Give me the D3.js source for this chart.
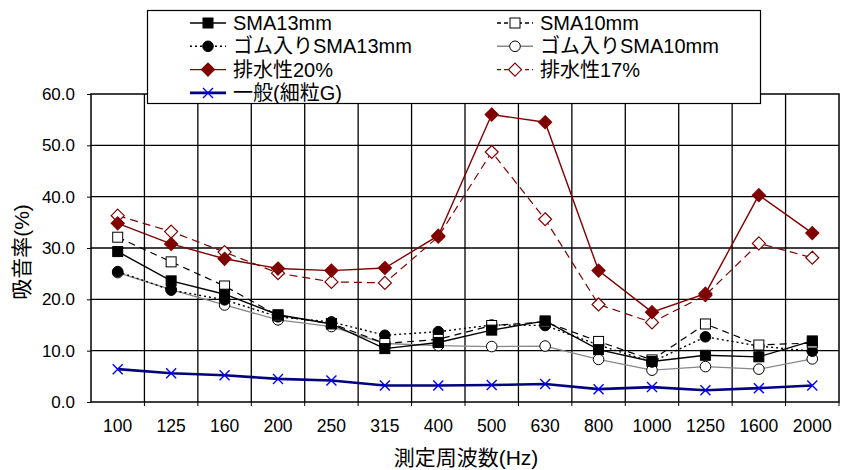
<!DOCTYPE html>
<html><head><meta charset="utf-8">
<script src="https://cdn.jsdelivr.net/npm/d3@7"></script>
<style>
body{margin:0;background:#fff;}
svg{display:block;font-family:"Liberation Sans","Noto Sans CJK JP",sans-serif;}
</style></head>
<body>
<svg id="c" width="843" height="470"></svg>
<script>
const categories = ["100","125","160","200","250","315","400","500","630","800","1000","1250","1600","2000"];
const yTicks = [0,10,20,30,40,50,60];

const sma13 = [29.3,23.6,21.0,17.0,15.2,10.4,11.6,14.0,15.8,10.2,7.9,9.1,8.8,11.9];
const sma10 = [32.1,27.3,22.6,16.8,15.3,11.4,12.2,14.9,15.6,11.8,8.2,15.2,11.1,11.5];
const gomu13 = [25.4,21.8,19.9,16.6,15.6,13.0,13.7,15.0,14.9,11.1,7.8,12.7,10.9,9.9];
const gomu10 = [25.2,21.9,18.9,16.0,14.7,11.4,11.0,10.8,10.9,8.3,6.2,6.9,6.4,8.4];
const haisui20 = [34.8,30.8,27.9,26.0,25.6,26.1,32.4,56.0,54.5,25.6,17.5,21.1,40.3,32.9];
const haisui17 = [36.3,33.2,29.2,25.1,23.4,23.2,32.2,48.7,35.6,19.0,15.5,20.8,30.9,28.1];
const ippan = [6.4,5.6,5.2,4.5,4.2,3.2,3.2,3.3,3.5,2.5,2.9,2.3,2.7,3.2];

const seriesNames = ["SMA13mm","SMA10mm","ゴム入りSMA13mm","ゴム入りSMA10mm","排水性20%","排水性17%","一般(細粒G)"];

const series = [
  {name:seriesNames[0], values:sma13, line:"#000", width:1.4, dash:null, marker:"square", fill:"#000", stroke:"#000"},
  {name:seriesNames[1], values:sma10, line:"#000", width:1.2, dash:"7,5", marker:"square", fill:"#fff", stroke:"#000"},
  {name:seriesNames[2], values:gomu13, line:"#000", width:1.4, dash:"2,3", marker:"circle", fill:"#000", stroke:"#000"},
  {name:seriesNames[3], values:gomu10, line:"#888", width:1.3, dash:null, marker:"circle", fill:"#fff", stroke:"#000"},
  {name:seriesNames[4], values:haisui20, line:"#800000", width:1.4, dash:null, marker:"diamond", fill:"#800000", stroke:"#800000"},
  {name:seriesNames[5], values:haisui17, line:"#800000", width:1.2, dash:"8,5", marker:"diamond", fill:"#fff", stroke:"#800000"},
  {name:seriesNames[6], values:ippan, line:"#000080", width:2.6, dash:null, marker:"x", fill:"none", stroke:"#0000ff"}
];

const svg = d3.select("#c");
const L=91, R=839, T=94, B=402;
const x = d3.scaleBand().domain(categories).range([L,R]).padding(0);
const y = d3.scaleLinear().domain([0,60]).range([B,T]);

// grid
const g = svg.append("g");
g.selectAll(".hg").data(yTicks.filter(d=>d>0&&d<60)).join("line")
  .attr("x1",L).attr("x2",R).attr("y1",d=>y(d)).attr("y2",d=>y(d))
  .attr("stroke","#000").attr("stroke-width",1.3);
g.selectAll(".vg").data(categories.slice(1)).join("line")
  .attr("x1",d=>x(d)).attr("x2",d=>x(d)).attr("y1",T).attr("y2",B)
  .attr("stroke","#000").attr("stroke-width",1.3);
g.append("rect").attr("x",L).attr("y",T).attr("width",R-L).attr("height",B-T)
  .attr("fill","none").attr("stroke","#000").attr("stroke-width",1.5);

// axes
const yAxis = d3.axisLeft(y).tickValues(yTicks).tickFormat(d3.format(".1f")).tickSize(4).tickPadding(12);
const ya = svg.append("g").attr("transform",`translate(${L},0)`).call(yAxis);
ya.select(".domain").remove();
ya.selectAll("text").attr("font-size",17).attr("fill","#000").attr("font-family","Liberation Sans, sans-serif");
ya.selectAll("line").attr("stroke","#000");

const xAxis = d3.axisBottom(x).tickSize(0).tickPadding(18);
const xa = svg.append("g").attr("transform",`translate(0,${B})`).call(xAxis);
xa.select(".domain").remove();
xa.selectAll("text").attr("font-size",17.5).attr("fill","#000").attr("font-family","Liberation Sans, sans-serif");
svg.append("g").selectAll("line").data(categories.slice(1).concat([null])).join("line")
  .attr("x1",d=>d?x(d):R).attr("x2",d=>d?x(d):R).attr("y1",B).attr("y2",B+4).attr("stroke","#000");

svg.append("text").attr("x",466).attr("y",465).attr("text-anchor","middle")
  .attr("font-size",21).text("測定周波数(Hz)");
svg.append("text").attr("transform","translate(29,252) rotate(-90)").attr("text-anchor","middle")
  .attr("font-size",21).text("吸音率(%)");

function drawMarker(sel, s, cx, cy){
  if(s.marker==="square"){
    sel.append("rect").attr("x",cx-5).attr("y",cy-5).attr("width",10).attr("height",10)
      .attr("fill",s.fill).attr("stroke",s.stroke).attr("stroke-width",1);
  } else if(s.marker==="circle"){
    sel.append("circle").attr("cx",cx).attr("cy",cy).attr("r",5.3)
      .attr("fill",s.fill).attr("stroke",s.stroke).attr("stroke-width",1);
  } else if(s.marker==="diamond"){
    sel.append("path").attr("d",`M${cx},${cy-6.5}L${cx+6.5},${cy}L${cx},${cy+6.5}L${cx-6.5},${cy}Z`)
      .attr("fill",s.fill).attr("stroke",s.stroke).attr("stroke-width",1.2);
  } else if(s.marker==="x"){
    sel.append("path").attr("d",`M${cx-5},${cy-5}L${cx+5},${cy+5}M${cx-5},${cy+5}L${cx+5},${cy-5}`)
      .attr("stroke",s.stroke).attr("stroke-width",1.4).attr("fill","none");
  }
}

const line = d3.line().x((d,i)=>x(categories[i])+x.bandwidth()/2).y(d=>y(d));
const drawOrder = [6,3,2,1,0,5,4];
drawOrder.forEach(k=>{
  const s = series[k];
  const sg = svg.append("g");
  sg.append("path").attr("d",line(s.values)).attr("fill","none")
    .attr("stroke",s.line).attr("stroke-width",s.width)
    .attr("stroke-dasharray",s.dash);
  s.values.forEach((v,i)=>drawMarker(sg,s,x(categories[i])+x.bandwidth()/2,y(v)));
});

// legend
const lg = svg.append("g");
lg.append("rect").attr("x",147.5).attr("y",10.5).attr("width",613).attr("height",93)
  .attr("fill","#fff").attr("stroke","#000").attr("stroke-width",1.2);
series.forEach((s,i)=>{
  const col = i%2, row = Math.floor(i/2);
  const lx = col===0 ? 190 : 497;
  const ly = 23 + row*23.3;
  lg.append("line").attr("x1",lx).attr("x2",lx+36).attr("y1",ly).attr("y2",ly)
    .attr("stroke",s.line).attr("stroke-width",s.width===2.6?2.6:1.4).attr("stroke-dasharray",s.dash?(s.dash==="2,3"?"2,3":"4,3"):null);
  drawMarker(lg,s,lx+18,ly);
  lg.append("text").attr("x",lx+43).attr("y",ly+7).attr("font-size",20).text(s.name);
});
</script>
</body></html>
